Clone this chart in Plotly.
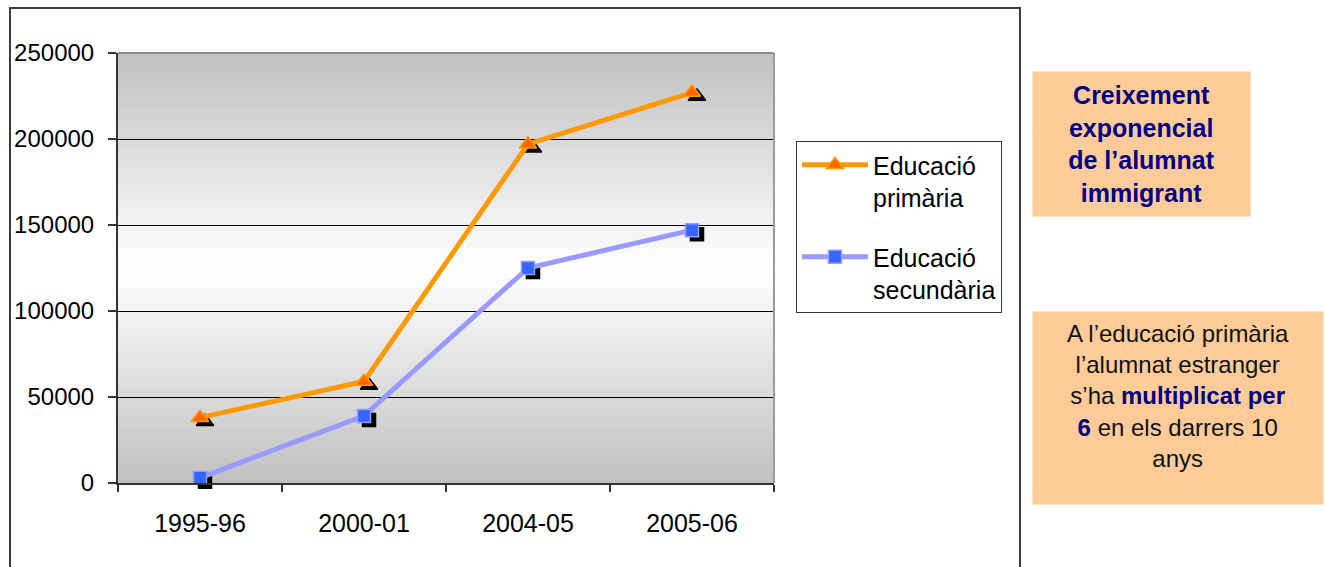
import plotly.graph_objects as go

# Alumnat estranger per curs escolar
cursos = ["1995-96", "2000-01", "2004-05", "2005-06"]
primaria = [38000, 59000, 197000, 227000]
secundaria = [3000, 39000, 125000, 147000]
y_ticks = [0, 50000, 100000, 150000, 200000, 250000]

W, H = 1325, 567
L, R, T, B = 118, 774, 53, 483          # plot area in pixels
pw, ph = R - L, B - T
FONT = "Liberation Sans"


def px_x(px):
    return (px - L) / pw


def px_y(py):
    return (B - py) / ph


# marker shadow offset (pixels) -> shifted range of the hidden base axes
sh_dx, sh_dy = 5, 4
x_rng = [-0.5, len(cursos) - 0.5]
y_rng = [0, 250000]
x_unit = (x_rng[1] - x_rng[0]) / pw
y_unit = (y_rng[1] - y_rng[0]) / ph
x_rng_sh = [x_rng[0] - sh_dx * x_unit, x_rng[1] - sh_dx * x_unit]
y_rng_sh = [y_rng[0] + sh_dy * y_unit, y_rng[1] + sh_dy * y_unit]

fig = go.Figure()

# black drop shadows (hidden base axes, drawn first)
fig.add_trace(go.Scatter(x=cursos, y=primaria, mode="markers", showlegend=False,
                         hoverinfo="skip", cliponaxis=False, xaxis="x", yaxis="y",
                         legendgroup="p",
                         marker=dict(symbol="triangle-up", size=15, color="black",
                                     line=dict(color="black", width=1.5))))
fig.add_trace(go.Scatter(x=cursos, y=secundaria, mode="markers", showlegend=False,
                         hoverinfo="skip", cliponaxis=False, xaxis="x", yaxis="y",
                         legendgroup="s",
                         marker=dict(symbol="square", size=13, color="black",
                                     line=dict(color="black", width=1.5))))

# series
fig.add_trace(go.Scatter(x=cursos, y=primaria, mode="lines+markers",
                         name="Educació<br>primària", cliponaxis=False,
                         xaxis="x2", yaxis="y2", legendgroup="p",
                         line=dict(color="#FF9900", width=5),
                         marker=dict(symbol="triangle-up", size=15, color="#FF6600",
                                     line=dict(color="#FF9900", width=1.5))))
fig.add_trace(go.Scatter(x=cursos, y=secundaria, mode="lines+markers",
                         name="Educació<br>secundària", cliponaxis=False,
                         xaxis="x2", yaxis="y2", legendgroup="s",
                         line=dict(color="#9999FF", width=5),
                         marker=dict(symbol="square", size=13, color="#3366FF",
                                     line=dict(color="#9999FF", width=1.5))))

shapes = []
# vertical grey gradient of the plot area (dark at top and bottom, white in the middle)
N = 86
for i in range(N):
    f0, f1 = i / N, (i + 1) / N
    fm = (f0 + f1) / 2
    g = int(round(255 - 63 * abs(fm - 0.5) / 0.5))
    c = f"rgb({g},{g},{g})"
    shapes.append(dict(type="rect", xref="paper", yref="paper", x0=0, x1=1,
                       y0=f0, y1=min(1, f1 + 0.002), fillcolor=c,
                       line=dict(width=0), layer="below"))
# top and right border of the plot area
shapes.append(dict(type="line", xref="paper", yref="paper", x0=0, x1=1, y0=1, y1=1,
                   line=dict(color="#8c8c8c", width=2), layer="above"))
shapes.append(dict(type="line", xref="paper", yref="paper", x0=1, x1=1, y0=0, y1=1,
                   line=dict(color="#9a9a9a", width=2), layer="above"))
# outer chart frame
shapes.append(dict(type="rect", xref="paper", yref="paper",
                   x0=px_x(10), x1=px_x(1020), y0=px_y(600), y1=px_y(8),
                   line=dict(color="#3c3c3c", width=2), layer="above"))

annotations = [
    dict(xref="paper", yref="paper", x=px_x(1032), y=px_y(71),
         xanchor="left", yanchor="top", showarrow=False,
         width=215, height=142, borderpad=1, bgcolor="#FFCC99",
         align="center", valign="middle",
         font=dict(family=FONT, size=25, color="#000080"),
         text="<b>Creixement<br>exponencial<br>de l’alumnat<br>immigrant</b>"),
    dict(xref="paper", yref="paper", x=px_x(1032), y=px_y(311),
         xanchor="left", yanchor="top", showarrow=False,
         width=274, height=176, borderpad=8, bgcolor="#FFCC99",
         align="center", valign="top",
         font=dict(family=FONT, size=24, color="#111111"),
         text=("A l’educació primària<br>l’alumnat estranger<br>"
               "s’ha <b><span style='color:#000080'>multiplicat per</span></b><br>"
               "<b><span style='color:#000080'>6</span></b> en els darrers 10<br>anys")),
]

fig.update_layout(
    width=W, height=H, autosize=False,
    margin=dict(l=L, r=W - R, t=T, b=H - B, pad=0),
    paper_bgcolor="white", plot_bgcolor="white",
    font=dict(family=FONT, size=25, color="black"),
    showlegend=True,
    legend=dict(x=px_x(796), y=px_y(141), xanchor="left", yanchor="top",
                bgcolor="white", bordercolor="#333333", borderwidth=1,
                font=dict(family=FONT, size=25, color="black"),
                valign="top", itemwidth=66, tracegroupgap=24,
                traceorder="grouped"),
    xaxis=dict(type="category", categoryarray=cursos, range=x_rng_sh, visible=False),
    yaxis=dict(range=y_rng_sh, visible=False),
    xaxis2=dict(type="category", categoryorder="array", categoryarray=cursos,
                overlaying="x", anchor="y2", side="bottom", range=x_rng,
                showline=True, linecolor="#333333", linewidth=2,
                ticks="outside", tickson="boundaries", ticklen=7,
                tickcolor="#333333", tickwidth=1.5, showgrid=False,
                ticklabelstandoff=17,
                tickfont=dict(family=FONT, size=25, color="black")),
    yaxis2=dict(overlaying="y", anchor="x2", side="left", range=y_rng,
                tickvals=y_ticks, tickformat="d",
                showline=True, linecolor="#333333", linewidth=2,
                ticks="outside", ticklen=8, tickcolor="#333333", tickwidth=1.5,
                ticklabelstandoff=9,
                showgrid=True, gridcolor="black", gridwidth=1, zeroline=False,
                tickfont=dict(family=FONT, size=24, color="black")),
    shapes=shapes,
    annotations=annotations,
)

fig.write_html("out.html")
